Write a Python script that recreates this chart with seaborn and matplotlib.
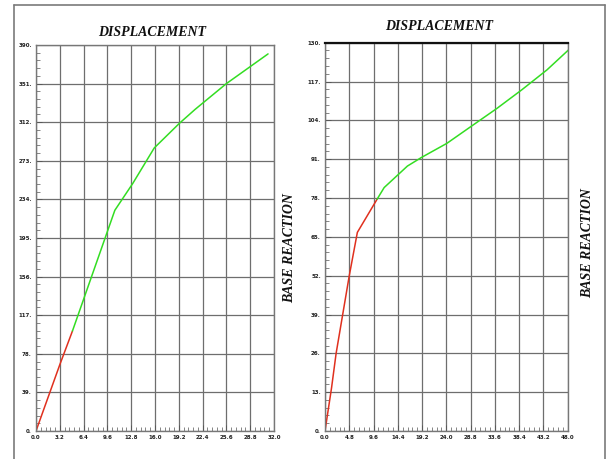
import matplotlib
matplotlib.use("Agg")
import matplotlib.pyplot as plt
import seaborn as sns
import pandas as pd
from matplotlib.lines import Line2D
from matplotlib.ticker import AutoMinorLocator

sns.set_theme(style="white")
plt.rcParams['font.family'] = ['DejaVu Sans']

# ---- data: left panel ----
left_red_x = [0.0, 3.2, 4.9]
left_red_y = [0.0, 67.0, 101.0]
left_green_x = [4.9, 10.6, 13.0, 15.9, 19.3, 21.4, 25.6, 31.2]
left_green_y = [101.0, 223.0, 250.0, 286.0, 311.0, 325.0, 351.0, 381.0]
left_xticks = [0.0, 3.2, 6.4, 9.6, 12.8, 16.0, 19.2, 22.4, 25.6, 28.8, 32.0]
left_xlabels = ["0.0", "3.2", "6.4", "9.6", "12.8", "16.0", "19.2", "22.4", "25.6", "28.8", "32.0"]
left_yticks = [0, 39, 78, 117, 156, 195, 234, 273, 312, 351, 390]
left_ylabels = ["0.", "39.", "78.", "117.", "156.", "195.", "234.", "273.", "312.", "351.", "390."]

# ---- data: right panel ----
right_red_x = [0.0, 1.3, 2.2, 4.8, 6.4, 10.3]
right_red_y = [0.0, 14.5, 26.0, 52.0, 66.5, 77.6]
right_green_x = [10.3, 11.7, 16.3, 19.1, 24.1, 29.0, 34.0, 38.9, 43.9, 48.3]
right_green_y = [77.6, 81.5, 88.7, 91.6, 96.3, 102.1, 108.0, 114.2, 120.9, 127.8]
right_xticks = [0.0, 4.8, 9.6, 14.4, 19.2, 24.0, 28.8, 33.6, 38.4, 43.2, 48.0]
right_xlabels = ["0.0", "4.8", "9.6", "14.4", "19.2", "24.0", "28.8", "33.6", "38.4", "43.2", "48.0"]
right_yticks = [0, 13, 26, 39, 52, 65, 78, 91, 104, 117, 130]
right_ylabels = ["0.", "13.", "26.", "39.", "52.", "65.", "78.", "91.", "104.", "117.", "130."]

W, H = 611, 459
fig = plt.figure(figsize=(W / 100, H / 100), dpi=100)
fig.patch.set_facecolor("white")

def fx(px):
    return px / W

def fy(py):
    return 1 - py / H

# outer frame
frame_col = "#7a7a7a"
fig.add_artist(Line2D([fx(14), fx(14)], [fy(5), fy(459)], color=frame_col, lw=1.2))
fig.add_artist(Line2D([fx(14), fx(605)], [fy(5), fy(5)], color=frame_col, lw=1.2))
fig.add_artist(Line2D([fx(605), fx(605)], [fy(5), fy(459)], color=frame_col, lw=1.2))

axL = fig.add_axes([fx(36), fy(431), fx(274) - fx(36), fy(45) - fy(431)])
axR = fig.add_axes([fx(325), fy(431), fx(567.7) - fx(325), fy(42.7) - fy(431)])

def draw(ax, rx, ry, gx, gy, xt, xl, yt, yl, thick_top):
    dr = pd.DataFrame({"d": rx, "f": ry})
    dg = pd.DataFrame({"d": gx, "f": gy})
    sns.lineplot(data=dr, x="d", y="f", ax=ax, color="#e0301e", lw=1.1, sort=False)
    sns.lineplot(data=dg, x="d", y="f", ax=ax, color="#33dd22", lw=1.1, sort=False)
    ax.set_xlim(xt[0], xt[-1])
    ax.set_ylim(yt[0], yt[-1])
    ax.set_xticks(xt)
    ax.set_xticklabels(xl, fontsize=4, fontweight="bold", color="#222222")
    ax.set_yticks(yt)
    ax.set_yticklabels(yl, fontsize=4, fontweight="bold", color="#222222")
    ax.xaxis.set_minor_locator(AutoMinorLocator(5))
    ax.yaxis.set_minor_locator(AutoMinorLocator(5))
    ax.tick_params(axis="both", which="major", direction="in", length=4, width=0.6,
                   color="#555555", pad=3, left=True, bottom=True)
    ax.tick_params(axis="both", which="minor", direction="in", length=3, width=0.5,
                   color="#555555", left=True, bottom=True)
    ax.set_xlabel("")
    ax.set_ylabel("")
    ax.grid(True, which="major", color="#6e6e6e", lw=0.9)
    ax.set_axisbelow(True)
    for s in ax.spines.values():
        s.set_color("#777777")
        s.set_linewidth(1.0)
    if thick_top:
        ax.spines["top"].set_color("#111111")
        ax.spines["top"].set_linewidth(1.6)

draw(axL, left_red_x, left_red_y, left_green_x, left_green_y,
     left_xticks, left_xlabels, left_yticks, left_ylabels, False)
draw(axR, right_red_x, right_red_y, right_green_x, right_green_y,
     right_xticks, right_xlabels, right_yticks, right_ylabels, True)

title_kw = dict(fontsize=10, fontweight="bold", fontstyle="italic",
                family=["Liberation Serif", "DejaVu Serif"], color="#111111",
                ha="center", va="center")
fig.text(fx(152), fy(32), "DISPLACEMENT", **title_kw)
fig.text(fx(439), fy(27), "DISPLACEMENT", **title_kw)
fig.text(fx(290), fy(248), "BASE REACTION", rotation=90, **title_kw)
fig.text(fx(588), fy(243), "BASE REACTION", rotation=90, **title_kw)

fig.savefig("out.png", dpi=100, facecolor="white")
